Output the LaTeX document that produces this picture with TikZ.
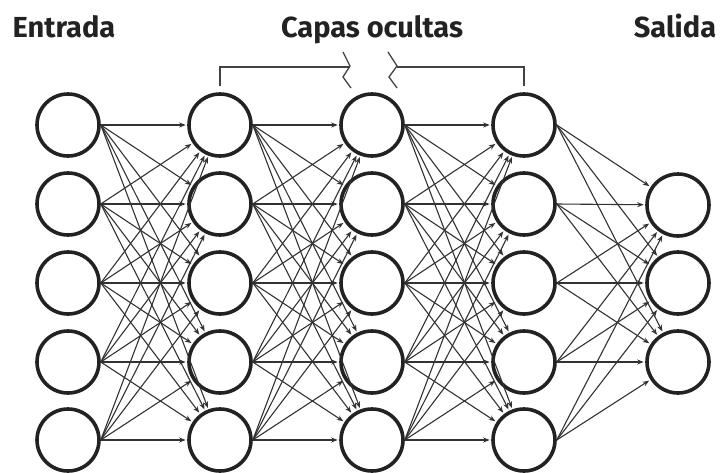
\documentclass[tikz,border=0pt]{standalone}
\usepackage{fontspec}
\setmainfont{Fira Sans}
\usetikzlibrary{arrows.meta}
\definecolor{ringc}{RGB}{34,34,34}
\definecolor{edgec}{RGB}{50,50,50}
\begin{document}
\begin{tikzpicture}[x=1pt,y=-1pt,
  neuron/.style={circle,draw=ringc,line width=3.6pt,minimum size=62pt,inner sep=0pt},
  conn/.style={draw=edgec,line width=1.1pt,-{Stealth[length=6.5pt,width=5pt]},shorten >=1.5pt},
  title/.style={font=\fontsize{29}{32}\selectfont\bfseries,text=ringc,anchor=base},
  bracket/.style={draw=ringc!85,line width=1.3pt}]
\useasboundingbox (0,0) rectangle (726,472);
% nodes
\foreach \c/\x in {1/68,2/220,3/372,4/524}{
  \foreach \r/\y in {1/125,2/204,3/283,4/362,5/440}{
    \node[neuron] (n\c\r) at (\x,\y) {};
  }
}
\foreach \r/\y in {1/205,2/283,3/362}{
  \node[neuron] (n5\r) at (678,\y) {};
}
% connections
\foreach \c/\d in {1/2,2/3,3/4}{
  \foreach \i in {1,...,5}{
    \foreach \j in {1,...,5}{
      \draw[conn] (n\c\i.east) -- (n\d\j);
    }
  }
}
\foreach \i in {1,...,5}{
  \foreach \j in {1,2,3}{
    \draw[conn] (n4\i.east) -- (n5\j);
  }
}
% titles
\node[title] (t1) at (64,37) {Entrada};
\node[title] (t2) at (372,37) {Capas ocultas};
\node[title] (t3) at (675,37) {Salida};
% bracket
\coordinate (bl) at (220,86);
\coordinate (br) at (524,86);
\draw[bracket] (bl) -- (220,67) -- (350,67);
\draw[bracket] (343,52) -- (350,66) -- (343,77) -- (351,88);
\draw[bracket] (br) -- (524,67) -- (397,67);
\draw[bracket] (388,52) -- (397,66) -- (389,77) -- (397,88);
\end{tikzpicture}
\end{document}
